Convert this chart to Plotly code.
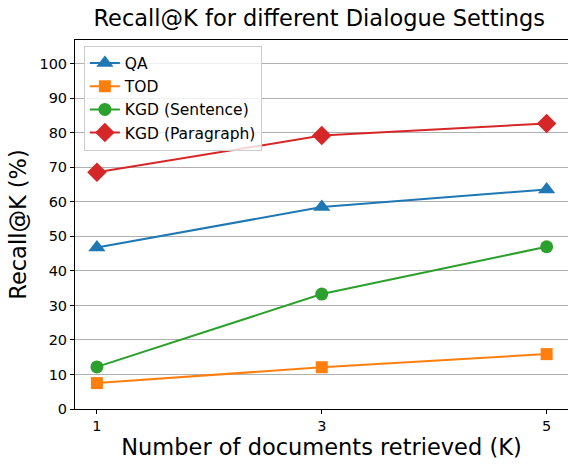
import plotly.graph_objects as go

k_values = [1, 3, 5]
qa = [46.8, 58.5, 63.6]
tod = [7.5, 12.1, 15.9]
kgd_sentence = [12.2, 33.3, 47.0]
kgd_paragraph = [68.6, 79.2, 82.7]
y_ticks = [0, 10, 20, 30, 40, 50, 60, 70, 80, 90, 100]

series = [
    ("QA", qa, "#1f77b4", "triangle-up", 15),
    ("TOD", tod, "#ff7f0e", "square", 12),
    ("KGD (Sentence)", kgd_sentence, "#2ca02c", "circle", 13),
    ("KGD (Paragraph)", kgd_paragraph, "#d62728", "diamond", 15),
]

fig = go.Figure()
for name, vals, color, sym, size in series:
    fig.add_trace(go.Scatter(
        x=k_values, y=vals, name=name, mode="lines+markers",
        line=dict(color=color, width=2),
        marker=dict(symbol=sym, size=size, color=color),
    ))

font = "DejaVu Sans"
fig.update_layout(
    width=568, height=466,
    margin=dict(l=75, r=0, t=40, b=57, autoexpand=False),
    plot_bgcolor="white", paper_bgcolor="white",
    font=dict(family=font, color="black", size=14.5),
    title=dict(text="Recall@K for different Dialogue Settings", x=0.562, xanchor="center",
               y=0.962, yanchor="middle", font=dict(size=22.5)),
    xaxis=dict(range=[0.805, 5.19], tickvals=k_values, ticktext=[str(v) for v in k_values],
               showgrid=False, showline=True, linecolor="black", linewidth=1, mirror=True,
               ticks="outside", ticklen=4, tickcolor="black", zeroline=False, automargin=False,
               title=dict(text="Number of documents retrieved (K)", font=dict(size=22.5), standoff=4)),
    yaxis=dict(range=[0, 106.9], tickvals=y_ticks, showgrid=True, gridcolor="#b0b0b0", gridwidth=1,
               showline=True, linecolor="black", linewidth=1, ticks="outside", ticklen=4,
               tickcolor="black", zeroline=False, automargin=False,
               title=dict(text="Recall@K (%)", font=dict(size=22.5), standoff=6)),
    legend=dict(x=0.018, y=0.985, xanchor="left", yanchor="top", bgcolor="rgba(255,255,255,0.8)",
                bordercolor="#cccccc", borderwidth=1, font=dict(size=15.5), tracegroupgap=0,
                itemwidth=30),
    showlegend=True,
)
fig.write_html("out.html", config={"displayModeBar": False},
               post_script="document.body.style.margin='0';")
